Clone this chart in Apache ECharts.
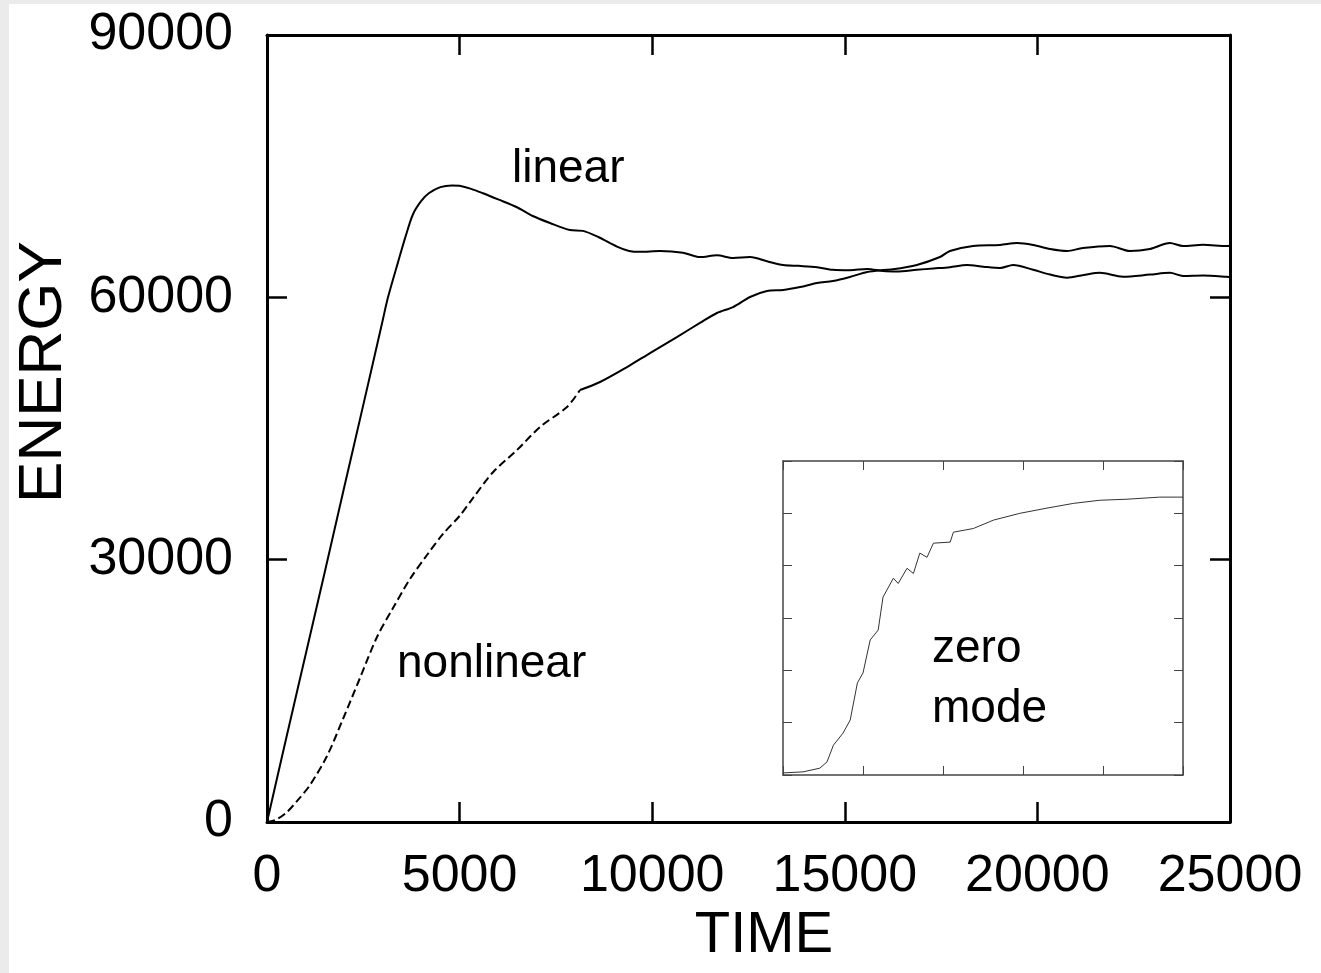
<!DOCTYPE html>
<html>
<head>
<meta charset="utf-8">
<title>ENERGY vs TIME</title>
<script src="https://cdn.jsdelivr.net/npm/echarts@6/dist/echarts.min.js"></script>
<style>
 html, body { margin: 0; padding: 0; background: #ebebeb; }
 #main { position: absolute; left: 9px; top: 4px; width: 1312px; height: 969px; background: #fff; }
</style>
</head>
<body>
<div id="main"></div>
<script>
 // linear run
 var linearTime = [0, 250, 500, 1000, 1500, 2000, 2500, 3000, 3141, 3400, 3600, 3790, 4000, 4200, 4500, 4800, 5000,
   5300, 5607, 6000, 6490, 6900, 7347, 7866, 8203, 8600, 9086, 9400, 9683, 10200, 10800, 11240, 11680, 12100, 12540,
   13000, 13400, 13800, 14280, 14690, 15130, 15580, 16000, 16350, 16870, 17300, 17730, 18170, 18600, 19030, 19370,
   19890, 20330, 20770, 21200, 21620, 22220, 22920, 23440, 23780, 24300, 24920, 25000];
 var linearEnergy = [0, 4800, 9600, 19100, 28600, 38200, 47700, 57300, 60000, 64000, 67000, 69500, 71000, 71900, 72600,
   72800, 72750, 72400, 71900, 71200, 70300, 69300, 68500, 67700, 67600, 66900, 65800, 65300, 65200, 65300, 65100, 64600,
   64800, 64500, 64600, 64100, 63700, 63600, 63450, 63150, 63100, 63250, 63000, 62950, 63150, 63300, 63450, 63700, 63500,
   63350, 63700, 63150, 62600, 62250, 62550, 62800, 62350, 62600, 62800, 62450, 62500, 62350, 62300];

 // nonlinear run
 var nonlinearTime = [0, 250, 519, 800, 1116, 1558, 1973, 2414, 2856, 3271, 3712, 4154, 4569, 5000, 5348, 5867, 6490,
   7087, 7788, 8125, 8645, 9346, 9943, 10640, 11240, 11680, 12100, 12540, 12980, 13400, 13840, 14280, 14690, 15130,
   15580, 15990, 16250, 16870, 17470, 17730, 18330, 19030, 19470, 19890, 20330, 20770, 21180, 21880, 22400, 22920,
   23440, 23780, 24300, 24920, 25000];
 var nonlinearEnergy = [0, 300, 1140, 2500, 4230, 7550, 11780, 16470, 21160, 24470, 27790, 30530, 32940, 35000, 37050,
   40000, 42540, 45170, 47460, 49400, 50320, 52030, 53630, 55460, 57070, 58210, 58890, 60040, 60720, 60840, 61180, 61640,
   61870, 62330, 62900, 63130, 63200, 63700, 64610, 65300, 65870, 65990, 66210, 65990, 65530, 65300, 65640, 65870, 65300,
   65530, 66210, 65870, 66000, 65870, 65900];
 var dashEnd = 8125; // nonlinear is drawn dashed up to this time

 // inset: zero mode (no axis labels)
 var insetTime = [0, 0.25, 0.46, 0.55, 0.63, 0.75, 0.84, 0.93, 1.00, 1.09, 1.19, 1.25, 1.38, 1.44, 1.55, 1.63, 1.71, 1.80,
   1.88, 2.09, 2.13, 2.38, 2.63, 2.96, 3.30, 3.63, 3.96, 4.30, 4.71, 5.00];
 var insetEnergy = [0.04, 0.06, 0.13, 0.25, 0.57, 0.80, 1.05, 1.76, 1.95, 2.58, 2.77, 3.40, 3.76, 3.66, 3.95, 3.85, 4.24,
   4.16, 4.43, 4.45, 4.64, 4.71, 4.87, 5.00, 5.10, 5.19, 5.25, 5.27, 5.31, 5.31];

 var font = '"Liberation Sans", Arial, Helvetica, sans-serif';

 function pairs(xs, ys, keep) {
   var out = [];
   for (var i = 0; i < xs.length; i++) {
     if (!keep || keep(xs[i])) out.push([xs[i], ys[i]]);
   }
   return out;
 }

 function mainAxis(pos, min, max, interval, labels) {
   var isY = (pos === 'left' || pos === 'right');
   return {
     type: 'value', gridIndex: 0, position: pos, min: min, max: max, interval: interval,
     axisLine: { show: true, onZero: false, lineStyle: { color: '#000', width: 3 } },
     axisTick: { show: true, inside: true, length: 20, lineStyle: { color: '#000', width: 2.5 } },
     axisLabel: {
       show: labels, color: '#000', fontSize: 52, fontFamily: font,
       margin: (isY ? 34 : 29),
       padding: (isY ? [8, 0, 0, 0] : 0),
       formatter: function (v) { return String(v); }
     },
     splitLine: { show: false }
   };
 }

 function insetAxis(pos, min, max) {
   return {
     type: 'value', gridIndex: 1, position: pos, min: min, max: max, interval: 1,
     axisLine: { show: true, onZero: false, lineStyle: { color: '#444', width: 1.5 } },
     axisTick: { show: true, inside: true, length: 9, lineStyle: { color: '#444', width: 1 } },
     axisLabel: { show: false },
     splitLine: { show: false }
   };
 }

 var myChart = echarts.init(document.getElementById('main'));

 var option = {
   animation: false,
   backgroundColor: '#fff',
   grid: [
     { left: 258, top: 31, width: 963, height: 787 },
     { left: 774, top: 457, width: 400, height: 314, show: true, backgroundColor: '#fff', borderWidth: 0 }
   ],
   xAxis: [
     mainAxis('bottom', 0, 25000, 5000, true),
     mainAxis('top', 0, 25000, 5000, false),
     insetAxis('bottom', 0, 5),
     insetAxis('top', 0, 5)
   ],
   yAxis: [
     mainAxis('left', 0, 90000, 30000, true),
     mainAxis('right', 0, 90000, 30000, false),
     insetAxis('left', 0, 6),
     insetAxis('right', 0, 6)
   ],
   series: [
     {
       name: 'linear', type: 'line', xAxisIndex: 0, yAxisIndex: 0, showSymbol: false, smooth: 0.3,
       data: pairs(linearTime, linearEnergy),
       lineStyle: { color: '#000', width: 2 }
     },
     {
       name: 'nonlinear', type: 'line', xAxisIndex: 0, yAxisIndex: 0, showSymbol: false, smooth: 0.3,
       data: pairs(nonlinearTime, nonlinearEnergy, function (t) { return t <= dashEnd; }),
       lineStyle: { color: '#000', width: 2, type: [8, 4] }
     },
     {
       name: 'nonlinear', type: 'line', xAxisIndex: 0, yAxisIndex: 0, showSymbol: false, smooth: 0.3,
       data: pairs(nonlinearTime, nonlinearEnergy, function (t) { return t >= dashEnd; }),
       lineStyle: { color: '#000', width: 2 }
     },
     {
       name: 'zero mode', type: 'line', xAxisIndex: 2, yAxisIndex: 2, showSymbol: false,
       data: pairs(insetTime, insetEnergy),
       lineStyle: { color: '#333', width: 1 }
     }
   ],
   graphic: [
     { type: 'text', x: 35, y: 368, rotation: Math.PI / 2,
       style: { text: 'ENERGY', fontSize: 62, fontFamily: font, fill: '#000', textAlign: 'center', textVerticalAlign: 'middle' } },
     { type: 'text', x: 755, y: 932,
       style: { text: 'TIME', fontSize: 58, fontFamily: font, fill: '#000', textAlign: 'center', textVerticalAlign: 'middle' } },
     { type: 'text', x: 503, y: 165,
       style: { text: 'linear', fontSize: 46, fontFamily: font, fill: '#000', textAlign: 'left', textVerticalAlign: 'middle' } },
     { type: 'text', x: 388, y: 660,
       style: { text: 'nonlinear', fontSize: 46, fontFamily: font, fill: '#000', textAlign: 'left', textVerticalAlign: 'middle' } },
     { type: 'text', x: 923, y: 645,
       style: { text: 'zero', fontSize: 46, fontFamily: font, fill: '#000', textAlign: 'left', textVerticalAlign: 'middle' } },
     { type: 'text', x: 923, y: 705,
       style: { text: 'mode', fontSize: 46, fontFamily: font, fill: '#000', textAlign: 'left', textVerticalAlign: 'middle' } }
   ]
 };

 myChart.setOption(option);
</script>
</body>
</html>
